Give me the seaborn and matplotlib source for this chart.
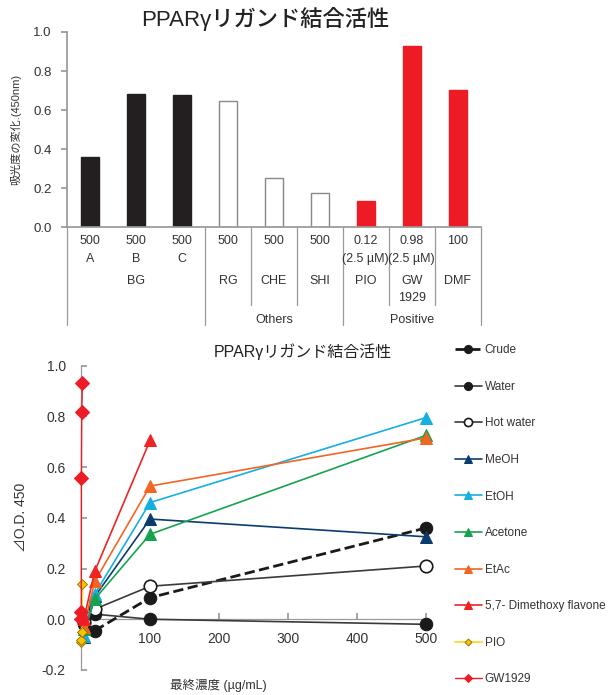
import matplotlib
matplotlib.use('Agg')
import matplotlib.pyplot as plt
import seaborn as sns

# ---- top panel data ----
bar_names = ['A', 'B', 'C', 'RG', 'CHE', 'SHI', 'PIO', 'GW1929', 'DMF']
bar_vals = [0.36, 0.68, 0.675, 0.648, 0.25, 0.175, 0.135, 0.93, 0.705]
bar_conc = ['500', '500', '500', '500', '500', '500', '0.12', '0.98', '100']
bar_row2 = ['A', 'B', 'C', '', '', '', '(2.5 µM)', '(2.5 µM)', '']
bar_row3 = ['', 'BG', '', 'RG', 'CHE', 'SHI', 'PIO', 'GW', 'DMF']
bar_row4 = ['', '', '', '', '', '', '', '1929', '']
group_names = ['', 'Others', 'Positive']
bar_colors = ['#231f20'] * 3 + ['white'] * 3 + ['#ed1c24'] * 3

# ---- bottom panel data ----
ext_x = [4, 20, 100, 500]
crude_x = [20, 100, 500]
crude = [-0.045, 0.085, 0.36]
water = [-0.02, 0.02, 0.0, -0.02]
hot_water = [-0.01, 0.04, 0.13, 0.21]
meoh = [-0.07, 0.09, 0.395, 0.325]
etoh = [-0.065, 0.10, 0.46, 0.795]
acetone = [-0.04, 0.08, 0.335, 0.725]
etac = [-0.03, 0.15, 0.525, 0.715]
dmf_x = [1, 4, 20, 100]
dmf = [0.03, 0.0, 0.19, 0.705]
pio_x = [0.2, 0.5, 1, 2]
pio = [-0.09, -0.08, -0.05, 0.14]
gw_x = [0.1, 0.3, 0.5, 1, 2]
gw = [0.0, 0.03, 0.555, 0.815, 0.93]

sns.set_theme(style='white')
plt.rcParams['font.family'] = ['Liberation Sans', 'Noto Sans CJK JP', 'DejaVu Sans']
txt_c = '#333333'
ax_c = '#999999'

fig = plt.figure(figsize=(6.14, 6.95), dpi=100)

# ================= top bar chart =================
ax1 = fig.add_axes([0.109, 0.673, 0.674, 0.281])
sns.barplot(x=list(range(9)), y=bar_vals, hue=list(range(9)),
            palette=bar_colors, legend=False, width=0.4, ax=ax1,
            native_scale=True, saturation=1)
for p, c in zip(ax1.patches, bar_colors):
    p.set_edgecolor('#888888' if c == 'white' else c)
    p.set_linewidth(1)
ax1.set_xlim(-0.5, 8.5)
ax1.set_ylim(0, 1.0)
ax1.set_yticks([0, 0.2, 0.4, 0.6, 0.8, 1.0])
ax1.set_yticklabels(['0.0', '0.2', '0.4', '0.6', '0.8', '1.0'])
ax1.set_xticks([])
ax1.set_xlabel('')
ax1.tick_params(axis='y', left=True, direction='out', length=4, color=ax_c,
                labelsize=9.5, labelcolor=txt_c, pad=7)
for s in ['top', 'right']:
    ax1.spines[s].set_visible(False)
for s in ['left', 'bottom']:
    ax1.spines[s].set_color(ax_c)
ax1.set_ylabel('吸光度の変化.(450nm)', fontsize=8, color=txt_c, labelpad=9)
ax1.set_title('PPARγリガンド結合活性', fontsize=16, color='#222222',
              fontweight='medium', pad=4, x=0.48)

tr = ax1.get_xaxis_transform()
rows = [-0.072, -0.164, -0.277, -0.364]
for i in range(9):
    for r, lab in zip(rows, [bar_conc[i], bar_row2[i], bar_row3[i], bar_row4[i]]):
        if lab:
            ax1.text(i, r, lab, transform=tr, ha='center', va='center',
                     fontsize=9, color=txt_c, clip_on=False)
for gx, gname in zip([1, 4, 7], group_names):
    if gname:
        ax1.text(gx, -0.477, gname, transform=tr, ha='center', va='center',
                 fontsize=9, color=txt_c, clip_on=False)
for xb in [-0.5, 2.5, 5.5, 8.5]:
    ax1.plot([xb, xb], [0, -0.503], transform=tr, color=ax_c, lw=0.9,
             clip_on=False)
for xb in [3.5, 4.5, 6.5, 7.5]:
    ax1.plot([xb, xb], [0, -0.40], transform=tr, color=ax_c, lw=0.9,
             clip_on=False)

# ================= bottom line chart =================
ax2 = fig.add_axes([0.132, 0.036, 0.562, 0.438])

series = [
    ('Crude', crude_x, crude, dict(color='#1a1a1a', marker='o', markersize=9,
                                   markerfacecolor='#1a1a1a', markeredgecolor='#1a1a1a',
                                   linestyle='--', lw=2)),
    ('Water', ext_x, water, dict(color='#3a3a3a', marker='o', markersize=9,
                                 markerfacecolor='#1a1a1a', markeredgecolor='#1a1a1a', lw=1.2)),
    ('Hot water', ext_x, hot_water, dict(color='#3a3a3a', marker='o', markersize=9,
                                         markerfacecolor='white', markeredgecolor='#1a1a1a',
                                         markeredgewidth=1.2, lw=1.2)),
    ('MeOH', ext_x, meoh, dict(color='#0b3c6e', marker='^', markersize=9,
                               markerfacecolor='#0b3c6e', markeredgecolor='#0b3c6e', lw=1.2)),
    ('EtOH', ext_x, etoh, dict(color='#17aee3', marker='^', markersize=9,
                               markerfacecolor='#17aee3', markeredgecolor='#17aee3', lw=1.2)),
    ('Acetone', ext_x, acetone, dict(color='#16a34f', marker='^', markersize=9,
                                     markerfacecolor='#16a34f', markeredgecolor='#16a34f', lw=1.2)),
    ('EtAc', ext_x, etac, dict(color='#f26522', marker='^', markersize=9,
                               markerfacecolor='#f26522', markeredgecolor='#f26522', lw=1.2)),
    ('5,7- Dimethoxy flavone', dmf_x, dmf, dict(color='#ee2424', marker='^', markersize=9,
                                                markerfacecolor='#ee2424',
                                                markeredgecolor='#ee2424', lw=1.2)),
    ('PIO', pio_x, pio, dict(color='#ffd21a', marker='D', markersize=5.5,
                             markerfacecolor='#f7c200', markeredgecolor='#8a7000',
                             markeredgewidth=0.6, lw=1.2)),
    ('GW1929', gw_x, gw, dict(color='#ee1c25', marker='D', markersize=7,
                              markerfacecolor='#ee1c25', markeredgecolor='#ee1c25', lw=1.0)),
]
for name, xs, ys, kw in series:
    sns.lineplot(x=xs, y=ys, ax=ax2, label=name, clip_on=False, zorder=3, **kw)

ax2.set_xlim(0, 500)
ax2.set_ylim(-0.2, 1.0)
ax2.spines['bottom'].set_position(('data', 0))
for s in ['top', 'right']:
    ax2.spines[s].set_visible(False)
for s in ['left', 'bottom']:
    ax2.spines[s].set_color(ax_c)
    ax2.spines[s].set_linewidth(0.9)
ax2.set_xticks([100, 200, 300, 400, 500])
ax2.set_yticks([-0.2, 0, 0.2, 0.4, 0.6, 0.8, 1.0])
ax2.set_yticklabels(['-0.2', '0.0', '0.2', '0.4', '0.6', '0.8', '1.0'])
ax2.tick_params(axis='both', direction='in', length=4, color=ax_c,
                labelsize=10, labelcolor=txt_c, left=True, bottom=True)
ax2.tick_params(axis='x', pad=9)
ax2.tick_params(axis='y', pad=11)
ax2.set_ylabel('⊿O.D. 450', fontsize=10, color=txt_c, labelpad=10)
fig.text(0.355, 0.014, '最終濃度 (µg/mL)', fontsize=9, color=txt_c,
         ha='center', va='center')
fig.text(0.493, 0.494, 'PPARγリガンド結合活性', fontsize=11.5, color='#222222',
         ha='center', va='center')

handles, labels = ax2.get_legend_handles_labels()
ax2.get_legend().remove()
leg = fig.legend(handles, labels, loc='upper left', bbox_to_anchor=(0.731, 0.513),
                 frameon=False, fontsize=8.5, labelspacing=2.08, handlelength=2.3,
                 handletextpad=0.25, borderpad=0, labelcolor=txt_c, markerscale=0.65)

fig.savefig('out.png', dpi=100)
